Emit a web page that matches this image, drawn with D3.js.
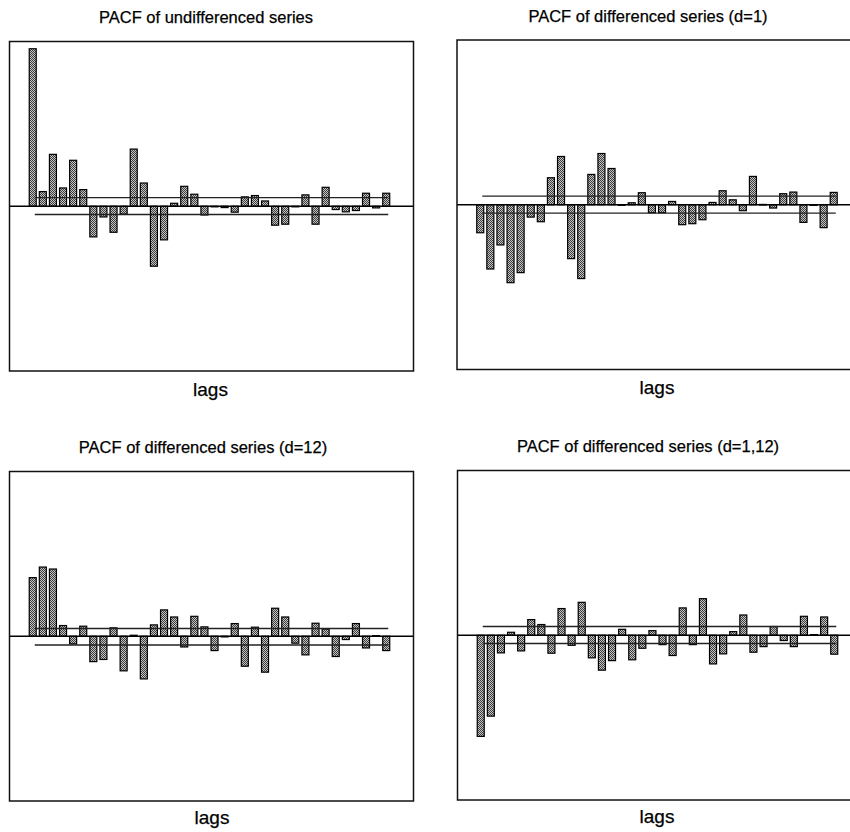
<!DOCTYPE html>
<html>
<head>
<meta charset="utf-8">
<script src="https://cdn.jsdelivr.net/npm/d3@7"></script>
<style>
  html, body { margin: 0; padding: 0; background: #fff; }
  svg { display: block; }
  text { font-family: "Liberation Sans", Arial, sans-serif; fill: #000; stroke: #000; stroke-width: 0.25px; }
</style>
</head>
<body>
<svg id="chart" width="850" height="832"></svg>
<script>
// ---- data ----
const lags = [1,2,3,4,5,6,7,8,9,10,11,12,13,14,15,16,17,18,19,20,21,22,23,24,25,26,27,28,29,30,31,32,33,34,35,36];

const titles = [
  "PACF of undifferenced series",
  "PACF of differenced series (d=1)",
  "PACF of differenced series (d=12)",
  "PACF of differenced series (d=1,12)"
];
const xLabel = "lags";

const pacfUndiff = [0.956,0.089,0.315,0.111,0.279,0.101,-0.186,-0.065,-0.158,-0.048,0.347,0.141,
  -0.364,-0.204,0.018,0.121,0.073,-0.053,-0.002,-0.008,-0.036,0.057,0.065,0.032,
  -0.115,-0.109,-0.003,0.069,-0.109,0.115,-0.020,-0.034,-0.026,0.079,-0.010,0.079];

const pacfD1 = [-0.170,-0.390,-0.244,-0.473,-0.412,-0.075,-0.103,0.164,0.293,-0.327,-0.448,0.184,
  0.311,0.220,-0.002,0.012,0.073,-0.048,-0.048,0.020,-0.121,-0.115,-0.091,0.014,
  0.085,0.030,-0.036,0.172,0.002,-0.020,0.067,0.077,-0.107,0.000,-0.139,0.075];

const pacfD12 = [0.356,0.420,0.408,0.065,-0.046,0.061,-0.154,-0.141,0.051,-0.210,0.006,-0.259,
  0.069,0.160,0.117,-0.065,0.121,0.057,-0.087,-0.004,0.077,-0.182,0.055,-0.218,
  0.170,0.117,-0.042,-0.113,0.079,0.044,-0.123,-0.020,0.077,-0.071,0.004,-0.087];

const pacfD1D12 = [-0.614,-0.491,-0.107,0.018,-0.095,0.095,0.065,-0.109,0.162,-0.061,0.200,-0.137,
  -0.212,-0.154,0.036,-0.149,-0.079,0.028,-0.057,-0.123,0.166,-0.057,0.222,-0.174,
  -0.113,0.022,0.123,-0.103,-0.069,0.053,-0.032,-0.069,0.115,0.004,0.111,-0.115];

const confUpper = [0.052, 0.052, 0.047, 0.053];
const confLower = [-0.050, -0.051, -0.053, -0.050];

const series = [pacfUndiff, pacfD1, pacfD12, pacfD1D12];

// ---- layout ----
const panels = [
  { left: 9.5,  top: 41.5,  title: [206, 22.5], lab: [210.5, 396] },
  { left: 457,  top: 40,    title: [648, 22],   lab: [657, 394] },
  { left: 9.5,  top: 471.5, title: [203, 452.5], lab: [212, 824] },
  { left: 457.5, top: 470.5, title: [648, 451.5], lab: [657, 823] }
];
const boxW = 404, boxH = 329.5;

const svg = d3.select("#chart");

// dithered bar fill pattern
const defs = svg.append("defs");
const pat = defs.append("pattern").attr("id", "dither")
  .attr("width", 2).attr("height", 2).attr("patternUnits", "userSpaceOnUse");
pat.append("rect").attr("width", 2).attr("height", 2).attr("fill", "#c4c4c4");
pat.append("rect").attr("x", 0).attr("y", 0).attr("width", 1).attr("height", 1).attr("fill", "#3c3c3c");
pat.append("rect").attr("x", 1).attr("y", 1).attr("width", 1).attr("height", 1).attr("fill", "#3c3c3c");

panels.forEach((p, i) => {
  const data = series[i];
  const x = d3.scaleLinear().domain([-1.3, 38.7]).range([p.left, p.left + boxW]);
  const y = d3.scaleLinear().domain([-1, 1]).range([p.top + boxH, p.top]);
  const g = svg.append("g");

  // title
  g.append("text").attr("x", p.title[0]).attr("y", p.title[1])
    .attr("text-anchor", "middle").attr("font-size", 16.5).text(titles[i]);
  // x label
  g.append("text").attr("x", p.lab[0]).attr("y", p.lab[1])
    .attr("text-anchor", "middle").attr("font-size", 19).text(xLabel);

  // bars
  const bw = 7;
  g.selectAll("rect.bar").data(data).join("rect").attr("class", "bar")
    .attr("x", (d, j) => x(lags[j]) - bw / 2)
    .attr("width", bw)
    .attr("y", d => y(Math.max(0, d)))
    .attr("height", d => Math.max(0.6, Math.abs(y(d) - y(0))))
    .attr("fill", "url(#dither)")
    .attr("stroke", "#000").attr("stroke-width", 1.2);

  // confidence lines
  [confUpper[i], confLower[i]].forEach(c => {
    g.append("line")
      .attr("x1", x(1.2)).attr("x2", x(36.2))
      .attr("y1", y(c)).attr("y2", y(c))
      .attr("stroke", "#222").attr("stroke-width", 1.3);
  });

  // zero line
  g.append("line")
    .attr("x1", x.range()[0]).attr("x2", x.range()[1])
    .attr("y1", y(0)).attr("y2", y(0))
    .attr("stroke", "#000").attr("stroke-width", 1.5);

  // frame
  g.append("rect")
    .attr("x", p.left).attr("y", p.top).attr("width", boxW).attr("height", boxH)
    .attr("fill", "none").attr("stroke", "#111").attr("stroke-width", 1.5);
});
</script>
</body>
</html>
